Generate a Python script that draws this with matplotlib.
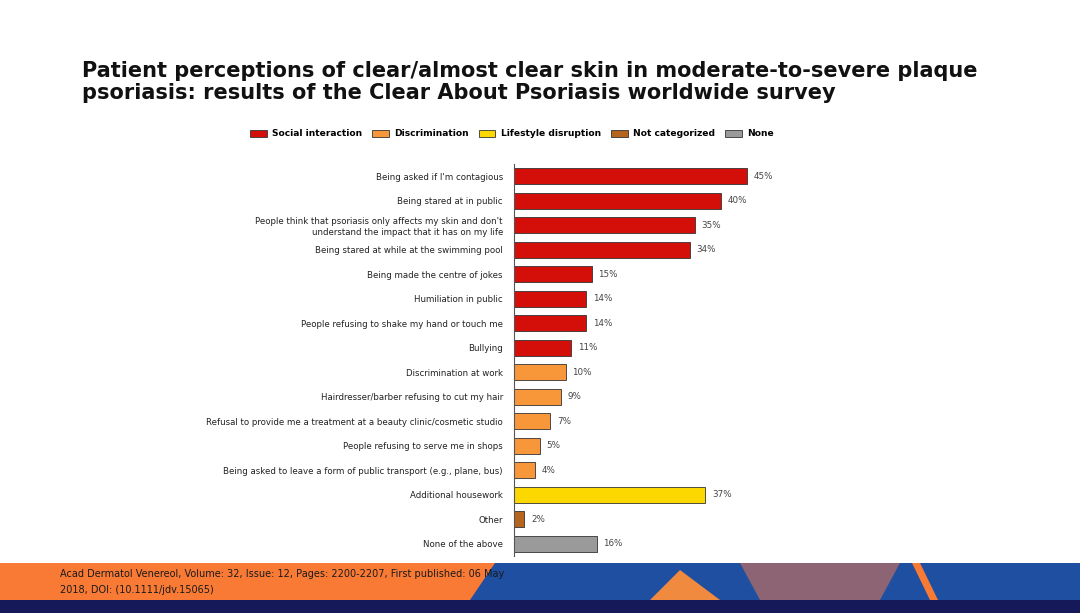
import matplotlib
matplotlib.use("Agg")
import matplotlib.pyplot as plt
from matplotlib.patches import Rectangle, Patch, Polygon

labels = [
    "Being asked if I'm contagious",
    "Being stared at in public",
    "People think that psoriasis only affects my skin and don't\nunderstand the impact that it has on my life",
    "Being stared at while at the swimming pool",
    "Being made the centre of jokes",
    "Humiliation in public",
    "People refusing to shake my hand or touch me",
    "Bullying",
    "Discrimination at work",
    "Hairdresser/barber refusing to cut my hair",
    "Refusal to provide me a treatment at a beauty clinic/cosmetic studio",
    "People refusing to serve me in shops",
    "Being asked to leave a form of public transport (e.g., plane, bus)",
    "Additional housework",
    "Other",
    "None of the above",
]
values = [45, 40, 35, 34, 15, 14, 14, 11, 10, 9, 7, 5, 4, 37, 2, 16]
groups = ["Social interaction"] * 8 + ["Discrimination"] * 5 + ["Lifestyle disruption", "Not categorized", "None"]

colors = {
    "Social interaction": "#d40f0a",
    "Discrimination": "#f8963a",
    "Lifestyle disruption": "#fdd800",
    "Not categorized": "#b5651d",
    "None": "#9a9a9a",
}

fig = plt.figure(figsize=(10.8, 6.13), dpi=100)
fig.patch.set_facecolor("white")

ax = fig.add_axes([514 / 1080, 1 - 556 / 613, 310 / 1080, 392 / 613])
ypos = list(range(len(labels)))
ax.barh(ypos, values, height=0.66, color=[colors[g] for g in groups],
        edgecolor="#333333", linewidth=0.6)
for y, v in zip(ypos, values):
    ax.text(v + 1.3, y, f"{v}%", va="center", ha="left", fontsize=6.3, color="#444444")
ax.set_yticks(ypos)
ax.set_yticklabels(labels, fontsize=6.2, color="#222222")
ax.tick_params(axis="y", length=0, pad=8)
ax.set_xlim(0, 60)
ax.set_ylim(len(labels) - 0.5, -0.5)
ax.set_xticks([])
for s in ["top", "right", "bottom"]:
    ax.spines[s].set_visible(False)
ax.spines["left"].set_color("#555555")
ax.spines["left"].set_linewidth(0.8)

handles = [Patch(facecolor=c, edgecolor="#333333", linewidth=0.6, label=g) for g, c in colors.items()]
fig.legend(handles=handles, loc="center", bbox_to_anchor=(512 / 1080, 1 - 134 / 613), ncol=5,
           frameon=False, handlelength=1.8, handleheight=0.8,
           columnspacing=1.1, handletextpad=0.6, prop={"weight": "bold", "size": 6.6})

fig.text(82 / 1080, 1 - 82 / 613,
         "Patient perceptions of clear/almost clear skin in moderate-to-severe plaque\n"
         "psoriasis: results of the Clear About Psoriasis worldwide survey",
         fontsize=15, fontweight="bold", va="center", ha="left", color="#111111",
         linespacing=1.15)

# footer band
fb, ft = 13 / 613, 50 / 613
fig.add_artist(Rectangle((0, fb), 1, ft - fb, transform=fig.transFigure,
                         facecolor="#f97a35", edgecolor="none"))
fig.add_artist(Polygon([(470 / 1080, fb), (495 / 1080, ft), (1, ft), (1, fb)],
                       transform=fig.transFigure, facecolor="#1e4fa0", edgecolor="none"))
fig.add_artist(Polygon([(650 / 1080, fb), (680 / 1080, 43 / 613), (720 / 1080, fb)],
                       transform=fig.transFigure, facecolor="#f08a3e", edgecolor="none"))
fig.add_artist(Polygon([(740 / 1080, ft), (900 / 1080, ft), (880 / 1080, fb), (760 / 1080, fb)],
                       transform=fig.transFigure, facecolor="#a86a6a", edgecolor="none", alpha=0.8))
fig.add_artist(Polygon([(912 / 1080, ft), (920 / 1080, ft), (938 / 1080, fb), (930 / 1080, fb)],
                       transform=fig.transFigure, facecolor="#f97a35", edgecolor="none"))
fig.add_artist(Rectangle((0, 0), 1, fb, transform=fig.transFigure,
                         facecolor="#15195a", edgecolor="none"))
fig.text(60 / 1080, 1 - 582 / 613,
         "Acad Dermatol Venereol, Volume: 32, Issue: 12, Pages: 2200-2207, First published: 06 May\n"
         "2018, DOI: (10.1111/jdv.15065)",
         fontsize=7, va="center", ha="left", color="#1a1a1a", linespacing=1.7)

fig.savefig("out.png", dpi=100)
